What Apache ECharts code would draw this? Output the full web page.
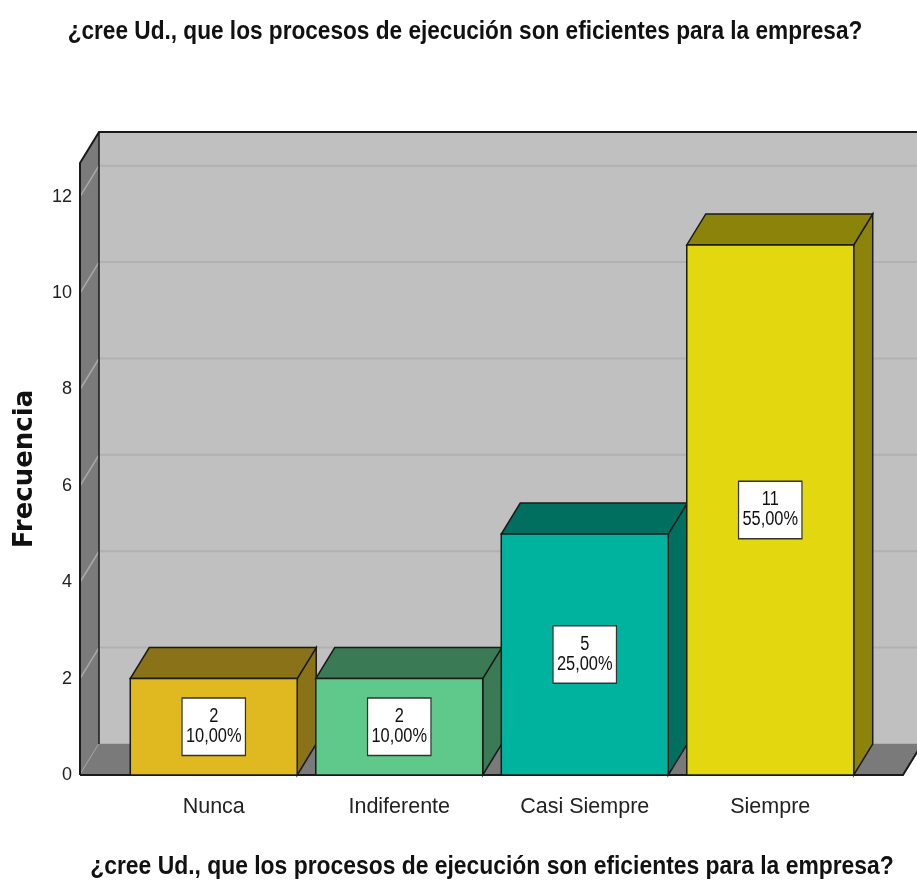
<!DOCTYPE html>
<html><head><meta charset="utf-8">
<script src="https://cdn.jsdelivr.net/npm/echarts@6/dist/echarts.min.js"></script>
<style>html,body{margin:0;padding:0;background:#fff}#c{width:917px;height:884px}</style>
</head><body><div id="c"></div><script>
const titleText = '¿cree Ud., que los procesos de ejecución son eficientes para la empresa?';
const axisNameY = 'Frecuencia';
const categories = ['Nunca', 'Indiferente', 'Casi Siempre', 'Siempre'];
const counts = [2, 2, 5, 11];
const percents = ['10,00%', '10,00%', '25,00%', '55,00%'];
const yTicks = [0, 2, 4, 6, 8, 10, 12];
const frontColors = ['#e0b920', '#5ec98a', '#00b39e', '#e3d810'];
const darkColors = ['#8a7219', '#3a7b55', '#006f60', '#8c840a'];

const SANS = '"Liberation Sans", Arial, sans-serif';
const DX = 19, DY = -31;

const chart = echarts.init(document.getElementById('c'), null, {renderer: 'canvas'});

function renderWalls(params, api) {
  const cs = params.coordSys;
  const fx = cs.x - 41;
  const y0 = api.coord([0, 0])[1];
  const yTop = cs.y;
  const rightFront = cs.x + cs.width + 40;
  const rightBack = rightFront + DX;
  const children = [];
  children.push({type: 'rect', shape: {x: fx + DX, y: yTop + DY, width: 1000, height: y0 - yTop},
    style: {fill: '#c0c0c0'}});
  yTicks.forEach(v => {
    const y = api.coord([0, v])[1] + DY;
    children.push({type: 'line', shape: {x1: fx + DX, y1: y, x2: 1000, y2: y},
      style: {stroke: '#b1b1b1', lineWidth: 2}});
  });
  children.push({type: 'polygon', shape: {points: [[fx, yTop], [fx + DX, yTop + DY], [fx + DX, y0 + DY], [fx, y0]]},
    style: {fill: '#7b7b7b'}});
  yTicks.forEach(v => {
    const y = api.coord([0, v])[1];
    children.push({type: 'line', shape: {x1: fx, y1: y, x2: fx + DX, y2: y + DY},
      style: {stroke: '#a9a9a9', lineWidth: 1.5}});
  });
  children.push({type: 'polygon', shape: {points: [[fx, y0], [rightFront, y0], [rightBack, y0 + DY], [fx + DX, y0 + DY]]},
    style: {fill: '#7a7a7a'}});
  const k = {stroke: '#1a1a1a', lineWidth: 2, fill: null};
  children.push({type: 'polyline', shape: {points: [[fx, y0], [fx, yTop], [fx + DX, yTop + DY], [1000, yTop + DY]]}, style: k});
  children.push({type: 'line', shape: {x1: fx + DX, y1: yTop + DY, x2: fx + DX, y2: y0 + DY}, style: {stroke: '#1a1a1a', lineWidth: 1.5}});
  children.push({type: 'polyline', shape: {points: [[fx, y0], [rightFront, y0], [rightBack, y0 + DY]]}, style: k});
  return {type: 'group', children};
}

function renderBar(params, api) {
  const i = api.value(0);
  const v = api.value(1);
  const c = api.coord([i, v]);
  const b = api.coord([i, 0]);
  const w = api.size([1, 0])[0] * 0.9;
  const xl = c[0] - w / 2, xr = c[0] + w / 2, yt = c[1], yb = b[1];
  const idx = params.dataIndex;
  const line = {stroke: '#1a1a1a', lineWidth: 1.5};
  const midY = api.coord([i, v / 2])[1];
  return {type: 'group', children: [
    {type: 'polygon', shape: {points: [[xr, yt], [xr + DX, yt + DY], [xr + DX, yb + DY], [xr, yb]]},
      style: Object.assign({fill: darkColors[idx]}, line)},
    {type: 'polygon', shape: {points: [[xl, yt], [xr, yt], [xr + DX, yt + DY], [xl + DX, yt + DY]]},
      style: Object.assign({fill: darkColors[idx]}, line)},
    {type: 'rect', shape: {x: xl, y: yt, width: w, height: yb - yt},
      style: Object.assign({fill: frontColors[idx]}, line)},
    {type: 'text', x: c[0], y: midY, z2: 10, scaleX: 0.82,
      style: {text: counts[idx] + '\n' + percents[idx], align: 'center', verticalAlign: 'middle',
        fontFamily: SANS, fontSize: 20, lineHeight: 20, fill: '#111',
        backgroundColor: '#fff', borderColor: '#333', borderWidth: 1.5, padding: [8, 4, 8, 4]}}
  ]};
}

const option = {
  backgroundColor: '#fff',
  animation: false,
  graphic: [
    {type: 'text', x: 465, y: 32, scaleX: 0.905,
      style: {text: titleText, align: 'center', verticalAlign: 'middle',
        fontFamily: SANS, fontWeight: 'bold', fontSize: 25, fill: '#111'}},
    {type: 'text', x: 492, y: 867, scaleX: 0.915,
      style: {text: titleText, align: 'center', verticalAlign: 'middle',
        fontFamily: SANS, fontWeight: 'bold', fontSize: 25, fill: '#111'}}
  ],
  grid: {left: 121, right: 54, top: 163, bottom: 109, containLabel: false, outerBoundsMode: 'none'},
  xAxis: {type: 'category', data: categories,
    axisLine: {show: false}, axisTick: {show: false},
    axisLabel: {margin: 21, fontFamily: SANS, fontSize: 21.5, color: '#222'}},
  yAxis: {type: 'value', min: 0, max: 12.7, interval: 2,
    name: axisNameY, nameLocation: 'middle', nameGap: 83,
    nameTextStyle: {fontFamily: '"DejaVu Sans", sans-serif', fontWeight: 'bold', fontSize: 26, color: '#111'},
    axisLine: {show: false}, axisTick: {show: false}, splitLine: {show: false},
    axisLabel: {margin: 49, fontFamily: SANS, fontSize: 18, color: '#222',
      formatter: v => (yTicks.indexOf(v) >= 0 ? String(v) : '')}},
  series: [
    {type: 'custom', renderItem: renderWalls, data: [[0, 0]], z: 1, silent: true, clip: false},
    {type: 'custom', renderItem: renderBar, data: counts.map((v, i) => [i, v]), z: 2, clip: false}
  ]
};
chart.setOption(option);
</script></body></html>
